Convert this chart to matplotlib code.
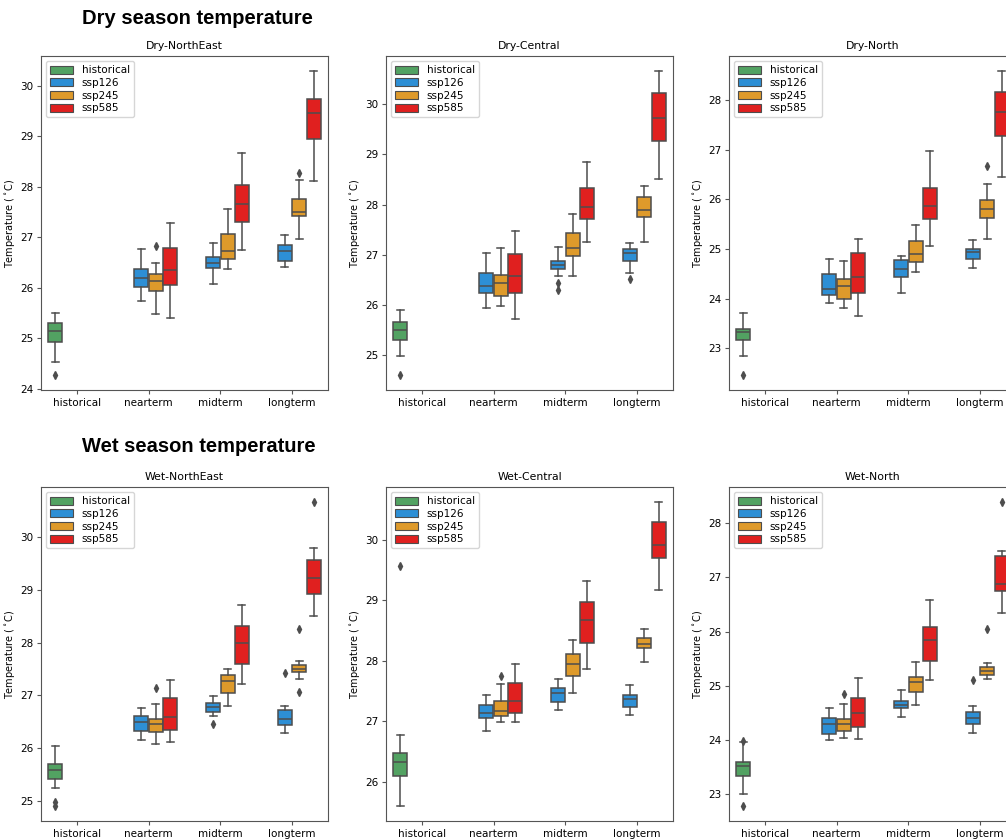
import matplotlib
matplotlib.use('Agg')
import matplotlib.pyplot as plt
from matplotlib.patches import Patch

periods = ['historical', 'nearterm', 'midterm', 'longterm']
scenarios = ['historical', 'ssp126', 'ssp245', 'ssp585']
colors = ['#52a262', '#2d8fd5', '#de9a2b', '#e0201f']

# (period index, scenario index) of each box, in the order of the stats lists
box_keys = [(0, 0), (1, 1), (1, 2), (1, 3), (2, 1), (2, 2), (2, 3), (3, 1), (3, 2), (3, 3)]

# each tuple: (lower whisker, Q1, median, Q3, upper whisker)
dry_ne_stats = [(24.53, 24.93, 25.14, 25.31, 25.51),
                (25.74, 26.02, 26.19, 26.38, 26.78),
                (25.49, 25.94, 26.14, 26.27, 26.50),
                (25.41, 26.05, 26.35, 26.80, 27.28),
                (26.07, 26.39, 26.50, 26.62, 26.88),
                (26.37, 26.58, 26.74, 27.06, 27.57),
                (26.75, 27.30, 27.66, 28.03, 28.67),
                (26.41, 26.54, 26.74, 26.84, 27.05),
                (26.96, 27.43, 27.51, 27.76, 28.14),
                (28.12, 28.94, 29.46, 29.73, 30.29)]
dry_ne_fliers = [[24.28], [], [26.82], [], [], [], [], [], [28.28], []]

dry_c_stats = [(24.98, 25.30, 25.50, 25.66, 25.91),
               (25.95, 26.24, 26.38, 26.63, 27.03),
               (25.98, 26.19, 26.44, 26.59, 27.14),
               (25.72, 26.25, 26.57, 27.02, 27.48),
               (26.58, 26.71, 26.80, 26.88, 27.15),
               (26.57, 26.98, 27.14, 27.43, 27.82),
               (27.25, 27.72, 27.95, 28.33, 28.86),
               (26.63, 26.88, 27.04, 27.11, 27.23),
               (27.25, 27.76, 27.90, 28.15, 28.38),
               (28.52, 29.27, 29.73, 30.22, 30.66)]
dry_c_fliers = [[24.61], [], [], [], [26.44, 26.30], [], [], [26.51], [], []]

dry_n_stats = [(22.85, 23.17, 23.32, 23.39, 23.71),
               (23.90, 24.08, 24.20, 24.49, 24.80),
               (23.80, 24.00, 24.25, 24.40, 24.76),
               (23.64, 24.12, 24.43, 24.91, 25.21),
               (24.11, 24.43, 24.60, 24.78, 24.86),
               (24.53, 24.73, 24.90, 25.16, 25.48),
               (25.07, 25.61, 25.86, 26.24, 26.97),
               (24.62, 24.80, 24.93, 25.00, 25.18),
               (25.20, 25.63, 25.81, 25.99, 26.31),
               (26.45, 27.28, 27.77, 28.16, 28.59)]
dry_n_fliers = [[22.46], [], [], [], [], [], [], [], [26.68], []]

wet_ne_stats = [(25.25, 25.41, 25.58, 25.71, 26.04),
                (26.16, 26.33, 26.49, 26.62, 26.77),
                (26.09, 26.31, 26.45, 26.56, 26.83),
                (26.12, 26.35, 26.60, 26.96, 27.29),
                (26.62, 26.69, 26.78, 26.86, 26.99),
                (26.80, 27.04, 27.27, 27.39, 27.51),
                (27.22, 27.60, 27.99, 28.32, 28.72),
                (26.29, 26.44, 26.55, 26.72, 26.80),
                (27.31, 27.44, 27.50, 27.57, 27.65),
                (28.51, 28.93, 29.23, 29.56, 29.79)]
wet_ne_fliers = [[24.98, 24.91], [], [27.15], [], [26.46], [], [], [27.43], [28.25, 27.06], [30.66]]

wet_c_stats = [(25.60, 26.09, 26.33, 26.47, 26.77),
               (26.84, 27.05, 27.13, 27.26, 27.43),
               (26.99, 27.08, 27.16, 27.33, 27.61),
               (26.99, 27.13, 27.33, 27.63, 27.94),
               (27.18, 27.32, 27.46, 27.54, 27.69),
               (27.47, 27.74, 27.94, 28.11, 28.34),
               (27.86, 28.30, 28.67, 28.97, 29.31),
               (27.10, 27.23, 27.36, 27.43, 27.59),
               (27.98, 28.21, 28.28, 28.37, 28.52),
               (29.16, 29.70, 29.92, 30.29, 30.62)]
wet_c_fliers = [[29.57], [], [27.74], [], [], [], [], [], [], []]

wet_n_stats = [(23.00, 23.33, 23.52, 23.59, 23.95),
               (23.99, 24.11, 24.30, 24.41, 24.59),
               (24.03, 24.16, 24.29, 24.39, 24.66),
               (24.01, 24.24, 24.50, 24.77, 25.15),
               (24.42, 24.58, 24.65, 24.71, 24.92),
               (24.65, 24.89, 25.06, 25.16, 25.44),
               (25.11, 25.46, 25.85, 26.09, 26.58),
               (24.12, 24.29, 24.40, 24.52, 24.62),
               (25.12, 25.19, 25.28, 25.35, 25.42),
               (26.35, 26.75, 26.88, 27.39, 27.48)]
wet_n_fliers = [[23.98, 22.78], [], [24.84], [], [], [], [], [25.10], [26.05], [28.39]]

panels = [
    ('Dry-NorthEast', dry_ne_stats, dry_ne_fliers),
    ('Dry-Central', dry_c_stats, dry_c_fliers),
    ('Dry-North', dry_n_stats, dry_n_fliers),
    ('Wet-NorthEast', wet_ne_stats, wet_ne_fliers),
    ('Wet-Central', wet_c_stats, wet_c_fliers),
    ('Wet-North', wet_n_stats, wet_n_fliers),
]

W, H = 1006, 839
fig = plt.figure(figsize=(W / 100, H / 100), dpi=100)

col_x = [41, 386, 729]
row_top = [56, 487]
ax_w, ax_h = 287, 334

line_col = '#4d4d4d'
fs = 7.5

for i, (title, stats, fliers) in enumerate(panels):
    r, c = divmod(i, 3)
    left = col_x[c] / W
    bottom = 1 - (row_top[r] + ax_h) / H
    ax = fig.add_axes([left, bottom, ax_w / W, ax_h / H])
    bstats, pos, fcols = [], [], []
    for (p, s), st, fl in zip(box_keys, stats, fliers):
        bstats.append(dict(whislo=st[0], q1=st[1], med=st[2], q3=st[3], whishi=st[4], fliers=fl))
        pos.append(p - 0.3 + 0.2 * s)
        fcols.append(colors[s])
    bp = ax.bxp(bstats, positions=pos, widths=0.196, patch_artist=True, manage_ticks=False,
                boxprops=dict(edgecolor=line_col, linewidth=1.1),
                medianprops=dict(color=line_col, linewidth=1.1),
                whiskerprops=dict(color=line_col, linewidth=1.1),
                capprops=dict(color=line_col, linewidth=1.1),
                flierprops=dict(marker='d', markerfacecolor=line_col, markeredgecolor=line_col,
                                markersize=4))
    for patch, col in zip(bp['boxes'], fcols):
        patch.set_facecolor(col)
    ax.set_xlim(-0.5, 3.5)
    ax.set_xticks(range(len(periods)))
    ax.set_xticklabels(periods, fontsize=fs)
    ax.tick_params(axis='y', labelsize=fs, pad=2.5)
    ax.tick_params(axis='x', pad=2.5)
    ax.tick_params(length=3, color='#555555')
    ax.set_ylabel(r'Temperature ($^\circ$C)', fontsize=fs - 0.5, labelpad=2)
    ax.set_title(title, fontsize=fs + 0.3, pad=5)
    for sp in ax.spines.values():
        sp.set_color('#555555')
    handles = [Patch(facecolor=colors[k], edgecolor=line_col, linewidth=0.8, label=scenarios[k])
               for k in range(4)]
    ax.legend(handles=handles, loc='upper left', fontsize=fs, handlelength=2.2,
              handleheight=0.8, borderaxespad=0.5, labelspacing=0.25)

fig.text(82 / W, 1 - 18 / H, 'Dry season temperature', fontsize=14.5, fontweight='bold',
         family='Liberation Sans', va='center', ha='left')
fig.text(82 / W, 1 - 447 / H, 'Wet season temperature', fontsize=14.5, fontweight='bold',
         family='Liberation Sans', va='center', ha='left')

fig.savefig('out.png', dpi=100)
